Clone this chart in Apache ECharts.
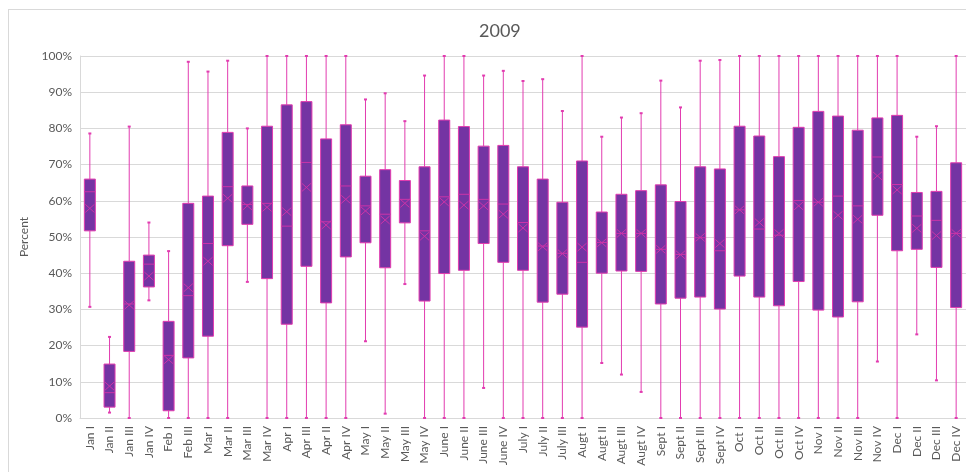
<!DOCTYPE html>
<html>
<head>
<meta charset="utf-8">
<script src="https://cdn.jsdelivr.net/npm/echarts@6/dist/echarts.min.js"></script>
<style>
  html, body { margin: 0; padding: 0; background: #fff; overflow: hidden; }
  #frame { position: absolute; left: 8px; top: 9px; width: 1000px; height: 520px; border: 1px solid #d9d9d9; }
  #chart { position: absolute; left: 0; top: 0; width: 966px; height: 472px; }
</style>
</head>
<body>
<div id="frame"></div>
<div id="chart"></div>
<script>
// weekly percent distribution, 2009
var categories = ["Jan I", "Jan II", "Jan III", "Jan IV", "Feb I", "Feb III", "Mar I", "Mar II", "Mar III", "Mar IV",
  "Apr I", "Apr III", "Apr II", "Apr IV", "May I", "May II", "May III", "May IV", "June I", "June II", "June III", "June IV",
  "July I", "July II", "July III", "Augt I", "Augt II", "Augt III", "Augt IV", "Sept I", "Sept II", "Sept III", "Sept IV",
  "Oct I", "Oct II", "Oct III", "Oct IV", "Nov I", "Nov II", "Nov III", "Nov IV", "Dec I", "Dec II", "Dec III", "Dec IV"];

var minVals = [30.7, 1.5, 0, 32.5, 0, 0, 0, 0, 37.6, 0,
  0, 0, 0, 0, 21.2, 1.2, 37.0, 0, 0, 0, 8.3, 0,
  0, 0, 0, 0, 15.2, 12.0, 7.2, 0, 0, 0, 0,
  0, 0, 0, 0, 0, 0, 0, 15.6, 0, 23.1, 10.4, 0];

var q1Vals = [51.7, 3.0, 18.4, 36.2, 2.0, 16.6, 22.6, 47.6, 53.5, 38.5,
  25.9, 41.9, 31.8, 44.5, 48.4, 41.5, 53.9, 32.3, 39.9, 40.8, 48.2, 43.0,
  40.8, 32.0, 34.2, 25.1, 40.0, 40.6, 40.5, 31.5, 33.1, 33.4, 30.1,
  39.2, 33.4, 31.0, 37.7, 29.8, 27.9, 32.1, 56.0, 46.2, 46.6, 41.6, 30.5];

var medianVals = [62.5, 7.0, 31.5, 42.5, 17.3, 33.8, 48.2, 63.9, 59.0, 59.3,
  53.0, 70.6, 54.2, 64.1, 58.6, 56.3, 60.4, 51.7, 61.1, 61.8, 60.4, 59.1,
  54.0, 47.5, 45.5, 43.0, 48.5, 51.0, 51.0, 46.6, 45.2, 49.8, 46.2,
  57.5, 52.2, 50.5, 60.1, 59.6, 61.3, 58.6, 72.1, 64.5, 55.8, 54.6, 51.0];

var q3Vals = [66.0, 14.9, 43.3, 45.0, 26.7, 59.3, 61.3, 78.9, 64.1, 80.6,
  86.5, 87.4, 77.1, 81.0, 66.8, 68.6, 65.6, 69.4, 82.3, 80.5, 75.1, 75.3,
  69.4, 66.0, 59.6, 71.0, 56.9, 61.8, 62.8, 64.4, 59.8, 69.4, 68.8,
  80.6, 77.9, 72.2, 80.3, 84.7, 83.4, 79.5, 82.9, 83.6, 62.3, 62.6, 70.5];

var maxVals = [78.6, 22.4, 80.5, 54.0, 46.1, 98.4, 95.7, 98.7, 80.0, 100,
  100, 100, 100, 100, 88.0, 89.7, 82.0, 94.6, 100, 100, 94.6, 95.9,
  93.1, 93.6, 84.8, 100, 77.7, 83.0, 84.2, 93.2, 85.8, 98.7, 98.9,
  100, 100, 100, 100, 100, 100, 100, 100, 100, 77.7, 80.6, 100];

var meanVals = [57.9, 8.8, 31.2, 39.2, 16.1, 36.0, 43.3, 60.7, 58.6, 58.2,
  57.0, 63.7, 53.3, 60.4, 57.2, 54.7, 59.3, 50.2, 59.7, 58.8, 58.6, 56.3,
  52.5, 47.3, 45.4, 47.2, 48.4, 51.0, 51.0, 46.6, 45.1, 49.9, 48.2,
  57.5, 54.0, 51.0, 58.6, 59.6, 56.0, 54.9, 66.9, 63.0, 52.4, 50.4, 51.0];

var yTicks = [0, 10, 20, 30, 40, 50, 60, 70, 80, 90, 100];

var boxColor = "#7434a3";
var lineColor = "#e23cb0";

var rows = categories.map(function (c, i) {
  return [i, minVals[i], q1Vals[i], medianVals[i], q3Vals[i], maxVals[i], meanVals[i]];
});

function renderBox(params, api) {
  var i = api.value(0);
  var pMin = api.coord([i, api.value(1)]);
  var pQ1 = api.coord([i, api.value(2)]);
  var pMed = api.coord([i, api.value(3)]);
  var pQ3 = api.coord([i, api.value(4)]);
  var pMax = api.coord([i, api.value(5)]);
  var pMean = api.coord([i, api.value(6)]);
  var cx = pQ1[0];
  var w = 11;
  var h = w / 2;
  var ln = { stroke: lineColor, lineWidth: 1 };
  var inner = { stroke: "#cc33a8", lineWidth: 1 };
  return {
    type: "group",
    children: [
      { type: "line", shape: { x1: cx, y1: pMin[1], x2: cx, y2: pQ1[1] }, style: ln },
      { type: "line", shape: { x1: cx, y1: pQ3[1], x2: cx, y2: pMax[1] }, style: ln },
      { type: "line", shape: { x1: cx - 1.5, y1: pMin[1], x2: cx + 1.5, y2: pMin[1] }, style: { stroke: lineColor, lineWidth: 2 } },
      { type: "line", shape: { x1: cx - 1.5, y1: pMax[1], x2: cx + 1.5, y2: pMax[1] }, style: { stroke: lineColor, lineWidth: 2 } },
      { type: "rect", shape: { x: cx - h, y: pQ3[1], width: w, height: pQ1[1] - pQ3[1] },
        style: { fill: boxColor, stroke: lineColor, lineWidth: 1 } },
      { type: "line", shape: { x1: cx - h, y1: pMed[1], x2: cx + h, y2: pMed[1] }, style: inner },
      { type: "line", shape: { x1: cx - 4.5, y1: pMean[1] - 4, x2: cx + 4.5, y2: pMean[1] + 4 }, style: inner },
      { type: "line", shape: { x1: cx - 4.5, y1: pMean[1] + 4, x2: cx + 4.5, y2: pMean[1] - 4 }, style: inner }
    ]
  };
}

var myChart = echarts.init(document.getElementById("chart"));
myChart.setOption({
  animation: false,
  textStyle: { fontFamily: "Lato, 'Open Sans', sans-serif" },
  title: {
    text: "2009",
    left: 474,
    top: 17,
    textStyle: { color: "#595959", fontSize: 18, fontWeight: "normal", fontFamily: "Lato, sans-serif" }
  },
  grid: { left: 80, right: -2, top: 56, bottom: 54 },
  xAxis: {
    type: "category",
    data: categories,
    axisTick: { show: false },
    axisLine: { lineStyle: { color: "#d9d9d9" } },
    axisLabel: { rotate: 90, interval: 0, color: "#595959", fontSize: 12, margin: 8 }
  },
  yAxis: {
    type: "value",
    min: yTicks[0],
    max: yTicks[yTicks.length - 1],
    interval: 10,
    name: "Percent",
    nameLocation: "middle",
    nameGap: 49,
    nameTextStyle: { color: "#595959", fontSize: 12 },
    axisLine: { show: true, lineStyle: { color: "#d9d9d9" } },
    axisTick: { show: false },
    splitLine: { lineStyle: { color: "#d9d9d9" } },
    axisLabel: { color: "#595959", fontSize: 12, margin: 8, formatter: "{value}%" }
  },
  series: [{
    type: "custom",
    renderItem: renderBox,
    encode: { x: 0, y: [1, 2, 3, 4, 5, 6] },
    data: rows,
    clip: false
  }]
});
</script>
</body>
</html>
